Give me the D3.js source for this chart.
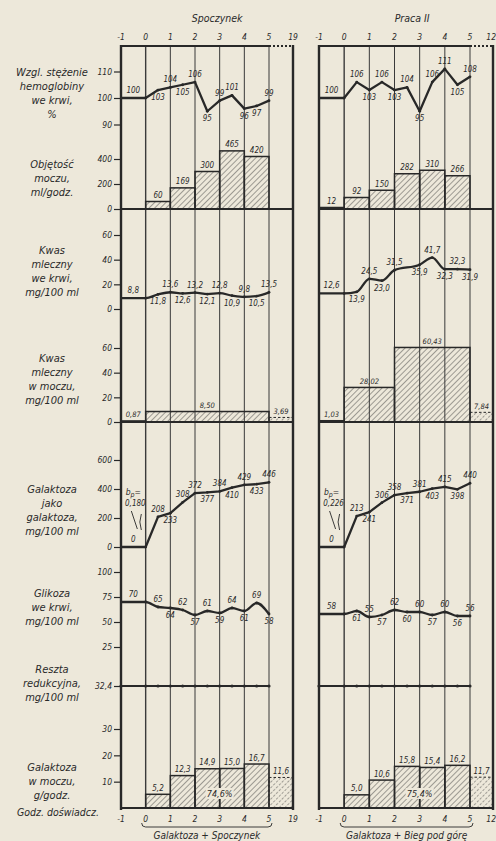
<!DOCTYPE html>
<html>
<head>
<meta charset="utf-8">
<script src="https://cdn.jsdelivr.net/npm/d3@7"></script>
<style>
  body { margin: 0; background: #ede8da; }
  svg text {
    font-family: "Liberation Sans Narrow", "DejaVu Sans Condensed", "Noto Sans", sans-serif;
    font-style: italic;
    fill: #2a2a2a;
  }
</style>
</head>
<body>
<svg id="chart" width="496" height="841"></svg>
<script>
// ---------- data ----------
const halfHours = [-1, 0, 0.5, 1, 1.5, 2, 2.5, 3, 3.5, 4, 4.5, 5];

// relative haemoglobin concentration, %
const hemoRest = [100, 100, 103, 104, 105, 106, 95, 99, 101, 96, 97, 99];
const hemoWork = [100, 100, 106, 103, 106, 103, 104, 95, 106, 111, 105, 108];

// urine volume, ml/h (per hour interval)
const urineBounds = [-1, 0, 1, 2, 3, 4, 5];
const urineRest = [null, 60, 169, 300, 465, 420];
const urineWork = [12, 92, 150, 282, 310, 266];

// blood lactate, mg/100 ml
const lacBloodRest = [8.8, 8.8, 11.8, 13.6, 12.6, 13.2, 12.1, 12.8, 10.9, 9.8, 10.5, 13.5];
const lacBloodWorkTimes = [-1, 0, 0.5, 1, 1.5, 2, 3, 3.5, 4, 4.5, 5];
const lacBloodWork = [12.6, 12.6, 13.9, 24.5, 23.0, 31.5, 35.9, 41.7, 32.3, 32.3, 31.9];

// urine lactate, mg/100 ml
const lacUrineRestBounds = [-1, 0, 5, 19];
const lacUrineRest = [0.87, 8.50, 3.69];
const lacUrineWorkBounds = [-1, 0, 2, 5, 12];
const lacUrineWork = [1.03, 28.02, 60.43, 7.84];

// blood galactose, mg/100 ml
const galRest = [0, 0, 208, 233, 308, 372, 377, 384, 410, 429, 433, 446];
const galWork = [0, 0, 213, 241, 306, 358, 371, 381, 403, 415, 398, 440];
const bpRest = "0,180";
const bpWork = "0,226";

// blood glucose, mg/100 ml
const gluRest = [70, 70, 65, 64, 62, 57, 61, 59, 64, 61, 69, 58];
const gluWork = [58, 58, 61, 55, 57, 62, 60, 60, 57, 60, 56, 56];

// residual reducing substances, mg/100 ml
const residual = 32.4;

// urine galactose, g/h
const galUrineRestBounds = [0, 1, 2, 3, 4, 5, 19];
const galUrineRest = [5.2, 12.3, 14.9, 15.0, 16.7, 11.6];
const galUrineWorkBounds = [0, 1, 2, 3, 4, 5, 12];
const galUrineWork = [5.0, 10.6, 15.8, 15.4, 16.2, 11.7];
const galUrinePctRest = "74,6%";
const galUrinePctWork = "75,4%";

// axis tick labels
const topTicksRest = [-1, 0, 1, 2, 3, 4, 5, 19];
const topTicksWork = [-1, 0, 1, 2, 3, 4, 5, 12];
const ticksHemo = [90, 100, 110];
const ticksUrine = [0, 200, 400];
const ticksLacBlood = [0, 20, 40, 60];
const ticksLacUrine = [0, 20, 40, 60];
const ticksGal = [0, 200, 400, 600];
const ticksGlu = [25, 50, 75, 100];
const ticksGalUrine = [10, 20, 30];

// ---------- label placement along lines (a = above, b = below) ----------
const sidesHemoRest = "abababaabba";
const sidesHemoWork = "aabababaaba";
const sidesLacRest = "abababababa";
const sidesLacWork = "ababababab";
const sidesGalRest = "aabaabababa";
const sidesGalWork = "aabaabababa";
const sidesGluRest = "aababababab";
const sidesGluWork = "abababababa";

// ---------- drawing ----------
const ink = "#282828";
const svg = d3.select("#chart");
const fmt = n => d3.format("." + n + "f");
const comma = (v, n) => fmt(n)(v).replace(".", ",");

const defs = svg.append("defs");
defs.append("pattern").attr("id", "hatch")
  .attr("patternUnits", "userSpaceOnUse").attr("width", 4).attr("height", 4)
  .attr("patternTransform", "rotate(45)")
  .append("line").attr("x1", 0).attr("y1", 0).attr("x2", 0).attr("y2", 4)
  .attr("stroke", "#3a3a3a").attr("stroke-width", 0.9);
defs.append("pattern").attr("id", "hatchDash")
  .attr("patternUnits", "userSpaceOnUse").attr("width", 4).attr("height", 4)
  .attr("patternTransform", "rotate(45)")
  .append("line").attr("x1", 0).attr("y1", 0).attr("x2", 0).attr("y2", 4)
  .attr("stroke", "#3a3a3a").attr("stroke-width", 0.9).attr("stroke-dasharray", "2,1.5");

// vertical layout: one y scale per row
const yHemo = d3.scaleLinear().domain([90, 110]).range([124.5, 71.5]);
const yUrine = d3.scaleLinear().domain([0, 400]).range([209, 159]);
const yLacB = d3.scaleLinear().domain([0, 60]).range([309, 235]);
const yLacU = d3.scaleLinear().domain([0, 60]).range([422, 348]);
const yGal = d3.scaleLinear().domain([0, 600]).range([547, 460]);
const yGlu = d3.scaleLinear().domain([25, 100]).range([647, 572]);
const yRes = d3.scaleLinear().domain([0, residual]).range([720, 686]);
const yGalU = d3.scaleLinear().domain([0, 30]).range([808, 729]);

const frameTop = 46, frameBottom = 808;

const panels = [
  { title: "Spoczynek", titleAt: 2.9, x: d3.scaleLinear().domain([-1, 5, 19]).range([121, 269, 293]),
    end: 19, ticks: topTicksRest, caption: "Galaktoza + Spoczynek",
    hemo: hemoRest, hemoS: sidesHemoRest, urine: urineRest,
    lacT: halfHours, lac: lacBloodRest, lacS: sidesLacRest,
    lacUB: lacUrineRestBounds, lacU: lacUrineRest, lacULabelAt: [-0.5, 2.5, 12],
    gal: galRest, galS: sidesGalRest, bp: bpRest,
    glu: gluRest, gluS: sidesGluRest,
    galUB: galUrineRestBounds, galU: galUrineRest, pct: galUrinePctRest },
  { title: "Praca II", titleAt: 2.7, x: d3.scaleLinear().domain([-1, 5, 12]).range([319, 470, 493]),
    end: 12, ticks: topTicksWork, caption: "Galaktoza + Bieg pod górę",
    hemo: hemoWork, hemoS: sidesHemoWork, urine: urineWork,
    lacT: lacBloodWorkTimes, lac: lacBloodWork, lacS: sidesLacWork,
    lacUB: lacUrineWorkBounds, lacU: lacUrineWork, lacULabelAt: [-0.5, 1, 3.5, 8.5],
    gal: galWork, galS: sidesGalWork, bp: bpWork,
    glu: gluWork, gluS: sidesGluWork,
    galUB: galUrineWorkBounds, galU: galUrineWork, pct: galUrinePctWork }
];

svg.append("rect").attr("width", 496).attr("height", 841).attr("fill", "#ede8da");

function label(g, x, y, txt, size, anchor) {
  g.append("text").attr("x", x).attr("y", y).attr("text-anchor", anchor || "middle")
    .attr("font-size", size || 8).text(txt);
}

function drawLine(g, x, times, vals, y, sides, dec, curve) {
  const line = d3.line().x((d, i) => x(times[i])).y(d => y(d)).curve(curve || d3.curveLinear);
  g.append("path").datum(vals).attr("d", line).attr("fill", "none")
    .attr("stroke", ink).attr("stroke-width", 2.3).attr("stroke-linejoin", "round");
  g.selectAll(null).data(vals.slice(1)).join("circle")
    .attr("cx", (d, i) => x(times[i + 1])).attr("cy", d => y(d)).attr("r", 1.4).attr("fill", ink);
  // first value labels the flat pre-period segment
  const pts = [{ t: (times[0] + times[1]) / 2, v: vals[0] }]
    .concat(vals.slice(2).map((v, i) => ({ t: times[i + 2], v })));
  pts.forEach((p, i) => {
    const above = sides[i] === "a";
    label(g, x(p.t), y(p.v) + (above ? -5 : 10), comma(p.v, dec));
  });
}

function drawBars(g, x, bounds, vals, y, dec, opts) {
  opts = opts || {};
  vals.forEach((v, i) => {
    if (v === null) return;
    const a = bounds[i], b = bounds[i + 1];
    const dashed = a >= 5;
    g.append("rect").attr("x", x(a)).attr("y", y(v))
      .attr("width", x(b) - x(a)).attr("height", y(0) - y(v))
      .attr("fill", dashed ? "url(#hatchDash)" : "url(#hatch)")
      .attr("stroke", ink).attr("stroke-width", dashed ? 1 : 1.5)
      .attr("stroke-dasharray", dashed ? "2.5,2" : null);
    if (!opts.noLabels) label(g, (x(a) + x(b)) / 2, y(v) - 3.5, comma(v, dec));
  });
}

panels.forEach((p, pi) => {
  const g = svg.append("g");
  const x = p.x;

  // title and hour ticks above and below the frame
  g.append("text").attr("x", x(p.titleAt)).attr("y", 22).attr("text-anchor", "middle")
    .attr("font-size", 10.5).text(p.title);
  p.ticks.forEach(t => {
    const last = t === p.end && x(t) > 488;
    label(g, last ? 496 : x(t), 40, t, 8.5, last ? "end" : "middle");
    label(g, last ? 496 : x(t), 822, t, 8.5, last ? "end" : "middle");
  });

  // hour grid
  g.selectAll(null).data([0, 1, 2, 3, 4, 5]).join("line")
    .attr("x1", d => x(d)).attr("x2", d => x(d)).attr("y1", frameTop).attr("y2", frameBottom)
    .attr("stroke", "#3a3a3a").attr("stroke-width", d => d === 0 ? 1.4 : 1);

  // urine volume bars
  drawBars(g, x, urineBounds, p.urine, yUrine, 0);
  g.append("line").attr("x1", x(-1)).attr("x2", x(p.end)).attr("y1", yUrine(0)).attr("y2", yUrine(0))
    .attr("stroke", ink).attr("stroke-width", 2);

  // urine lactate bars
  drawBars(g, x, p.lacUB, p.lacU, yLacU, 2, { noLabels: true });
  p.lacU.forEach((v, i) => label(g, x(p.lacULabelAt[i]), yLacU(v) - 3.5, comma(v, 2), 7.5));
  g.append("line").attr("x1", x(-1)).attr("x2", x(p.end)).attr("y1", yLacU(0)).attr("y2", yLacU(0))
    .attr("stroke", ink).attr("stroke-width", 2);

  // urine galactose bars
  drawBars(g, x, p.galUB, p.galU, yGalU, 1);
  const pc = g.append("g");
  pc.append("rect").attr("x", x(3) - 14).attr("y", 788).attr("width", 28).attr("height", 11)
    .attr("fill", "#ede8da");
  label(pc, x(3), 797, p.pct, 9);

  // line series
  drawLine(g, x, halfHours, p.hemo, yHemo, p.hemoS, 0);
  drawLine(g, x, p.lacT, p.lac, yLacB, p.lacS, 1, d3.curveMonotoneX);
  drawLine(g, x, halfHours, p.gal, yGal, p.galS, 0);
  drawLine(g, x, halfHours, p.glu, yGlu, p.gluS, 0, d3.curveMonotoneX);

  // residual reducing substances
  const resLine = d3.line().x(d => x(d)).y(() => yRes(residual));
  g.append("path").datum(halfHours).attr("d", resLine).attr("stroke", ink).attr("stroke-width", 2.2).attr("fill", "none");
  g.selectAll(null).data(halfHours).join("circle")
    .attr("cx", d => x(d)).attr("cy", yRes(residual)).attr("r", 1.6).attr("fill", ink);

  // b_p annotation at the start of galactose loading
  const bx = x(-0.5);
  const bt = g.append("text").attr("x", bx).attr("y", 495).attr("text-anchor", "middle").attr("font-size", 8.5);
  bt.append("tspan").text("b");
  bt.append("tspan").attr("font-size", 7).attr("dy", 2).text("p");
  bt.append("tspan").attr("dy", -2).text("=");
  label(g, bx + 2, 506, p.bp, 8);
  g.append("path").attr("d", `M${bx - 2},511 L${bx + 4},529`).attr("stroke", ink).attr("fill", "none").attr("stroke-width", 0.9);
  g.append("path").attr("d", `M${bx + 8},514 q-3,8 0,16`).attr("stroke", ink).attr("fill", "none").attr("stroke-width", 0.9);

  // frame
  g.append("line").attr("x1", x(-1)).attr("x2", x(-1)).attr("y1", frameTop - 1).attr("y2", frameBottom + 2)
    .attr("stroke", ink).attr("stroke-width", 2.4);
  g.append("line").attr("x1", x(p.end)).attr("x2", x(p.end)).attr("y1", frameTop - 1).attr("y2", frameBottom + 2)
    .attr("stroke", ink).attr("stroke-width", 2.4);
  g.append("line").attr("x1", x(-1)).attr("x2", x(5)).attr("y1", frameTop).attr("y2", frameTop)
    .attr("stroke", ink).attr("stroke-width", 2.2);
  g.append("line").attr("x1", x(5)).attr("x2", x(p.end)).attr("y1", frameTop).attr("y2", frameTop)
    .attr("stroke", ink).attr("stroke-width", 2.2).attr("stroke-dasharray", "2,2");
  g.append("line").attr("x1", x(-1)).attr("x2", x(p.end)).attr("y1", frameBottom).attr("y2", frameBottom)
    .attr("stroke", ink).attr("stroke-width", 2);

  // caption bracket
  const c0 = x(0) - 4, c1 = x(5) + 3, cy = 827;
  g.append("path").attr("d", `M${c0},${cy - 4} q0,4 4,4 H${c1 - 4} q4,0 4,-4`)
    .attr("fill", "none").attr("stroke", ink).attr("stroke-width", 0.9);
  label(g, (c0 + c1) / 2, 839, p.caption, 10);
});

// left axes (first panel only)
const axisX = 121;
function yAxis(scale, ticks, format) {
  const ax = svg.append("g").attr("transform", `translate(${axisX},0)`)
    .call(d3.axisLeft(scale).tickValues(ticks).tickSize(7).tickPadding(2).tickFormat(format || (d => d)));
  ax.select(".domain").remove();
  ax.selectAll("line").attr("stroke", ink).attr("stroke-width", 1.2);
  ax.selectAll("text").attr("font-size", 8.5).attr("fill", "#2a2a2a")
    .style("font-family", "'Liberation Sans Narrow','DejaVu Sans Condensed',sans-serif").style("font-style", "italic");
}
yAxis(yHemo, ticksHemo);
yAxis(yUrine, ticksUrine);
yAxis(yLacB, ticksLacBlood);
yAxis(yLacU, ticksLacUrine);
yAxis(yGal, ticksGal);
yAxis(yGlu, ticksGlu);
yAxis(yRes, [residual], d => comma(d, 1));
yAxis(yGalU, ticksGalUrine);

// row titles
const rowTitles = [
  { lines: ["Wzgl. stężenie", "hemoglobiny", "we krwi,", "%"], y: 72 },
  { lines: ["Objętość", "moczu,", "ml/godz."], y: 164 },
  { lines: ["Kwas", "mleczny", "we krwi,", "mg/100 ml"], y: 250 },
  { lines: ["Kwas", "mleczny", "w moczu,", "mg/100 ml"], y: 358 },
  { lines: ["Galaktoza", "jako", "galaktoza,", "mg/100 ml"], y: 489 },
  { lines: ["Glikoza", "we krwi,", "mg/100 ml"], y: 593 },
  { lines: ["Reszta", "redukcyjna,", "mg/100 ml"], y: 669 },
  { lines: ["Galaktoza", "w moczu,", "g/godz."], y: 767 }
];
rowTitles.forEach(r => {
  r.lines.forEach((s, i) => {
    svg.append("text").attr("x", 52).attr("y", r.y + i * 14 + 4).attr("text-anchor", "middle")
      .attr("font-size", 11).text(s);
  });
});
svg.append("text").attr("x", 58).attr("y", 816).attr("text-anchor", "middle")
  .attr("font-size", 10.5).text("Godz. doświadcz.");
</script>
</body>
</html>
